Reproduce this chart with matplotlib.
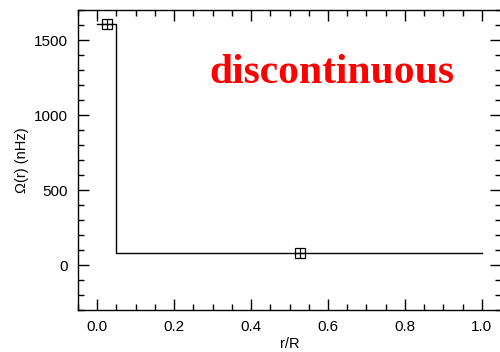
import matplotlib
matplotlib.use("Agg")
import matplotlib.pyplot as plt
from matplotlib.ticker import MultipleLocator

# step profile of the rotation rate
step_r = [0.0, 0.05, 0.05, 1.0]
step_omega = [1610, 1610, 80, 80]

# averaged points
point_r = [0.025, 0.527]
point_omega = [1610, 80]

plt.rcParams["font.family"] = ["Liberation Sans", "DejaVu Sans"]

fig = plt.figure(figsize=(5.0, 3.52), dpi=100)
ax = fig.add_axes([0.156, 0.119, 0.846, 0.852])

ax.plot(step_r, step_omega, color="black", lw=1.0)
ax.plot(point_r, point_omega, "s", ms=6.5, mfc="none", mec="black", mew=0.9)
ax.plot(point_r, point_omega, "+", ms=6.5, color="black", mew=0.9)

ax.set_xlim(-0.05, 1.05)
ax.set_ylim(-300, 1700)
ax.xaxis.set_major_locator(MultipleLocator(0.2))
ax.xaxis.set_minor_locator(MultipleLocator(0.05))
ax.yaxis.set_major_locator(MultipleLocator(500))
ax.yaxis.set_minor_locator(MultipleLocator(100))
ax.xaxis.set_major_formatter(plt.FuncFormatter(lambda v, p: "%.1f" % v))
ax.tick_params(which="both", direction="in", top=True, right=True,
               labelsize=11, width=1.0)
ax.tick_params(which="major", length=8, pad=7)
ax.tick_params(which="minor", length=4)
for s in ax.spines.values():
    s.set_linewidth(1.0)

ax.set_xlabel("r/R", fontsize=10.5, labelpad=2)
ax.set_ylabel("Ω(r) (nHz)", fontsize=10.5, labelpad=4)

ax.text(0.61, 1213, "discontinuous", color="red", fontsize=30,
        fontweight="bold", family="Liberation Serif", ha="center",
        va="baseline")

fig.savefig("out.png", dpi=100)
